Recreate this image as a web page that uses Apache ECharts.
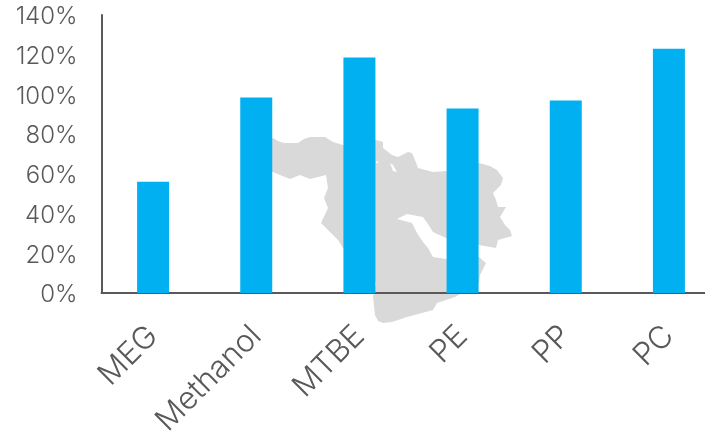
<!DOCTYPE html>
<html><head><meta charset="utf-8">
<style>html,body{margin:0;padding:0;background:#fff}#c{width:705px;height:441px}</style>
<script src="https://cdn.jsdelivr.net/npm/echarts@6/dist/echarts.min.js"></script></head>
<body><div id="c"></div>
<script>
const categories = ['MEG','Methanol','MTBE','PE','PP','PC'];
const values = [56, 98.4, 118.6, 92.9, 96.9, 123];
const yTicks = [0,20,40,60,80,100,120,140];
const regionOutline = [[265,138],[273,138],[278,141],[284,143],[298,143],[304,139],[310,137],[325,137],[333,142],[343,145],[376,140],[383,142],[383,148],[392,155],[398,157],[408,152],[412,153],[415,160],[418,168],[433,172],[446,171],[479,163],[490,166],[497,170],[503,178],[501,185],[493,193],[496,200],[498,207],[506,207],[500,217],[505,225],[510,230],[512,236],[498,240],[496,248],[479,245],[446,238],[433,232],[428,224],[423,217],[407,214],[397,219],[412,223],[417,233],[423,242],[428,248],[433,257],[446,259],[479,257],[486,263],[480,275],[479,283],[455,297],[437,303],[433,310],[407,317],[392,322],[383,323],[378,321],[375,315],[373,297],[376,283],[343,248],[338,240],[328,230],[321,223],[328,208],[324,198],[328,188],[326,175],[318,177],[310,179],[300,175],[290,179],[280,175],[273,172],[265,170]];
const regionLake = [[390,163],[393,165],[397,172],[393,171]];
const regionSpot = [[376,162],[378,161],[378,163],[376,163]];
const chart = echarts.init(document.getElementById('c'), null, {renderer:'canvas'});
const yFont = {fontFamily:'Inter', fontWeight:300, fontSize:24, color:'#595959'};
const xFont = {fontFamily:'Inter', fontWeight:300, fontSize:31, color:'#595959'};
chart.setOption({
  animation:false,
  backgroundColor:'#fff',
  grid:{left:101.5, top:15, width:619, height:278, containLabel:false, outerBoundsMode:'none'},
  graphic:{elements:[
    {type:'polygon', z:-10, shape:{points:regionOutline}, style:{fill:'#d9d9d9'}, silent:true},
    {type:'polygon', z:-9, shape:{points:regionLake}, style:{fill:'#fff'}, silent:true},
    {type:'polygon', z:-9, shape:{points:regionSpot}, style:{fill:'#fff'}, silent:true}
  ]},
  xAxis:{type:'category', data:categories,
    axisLine:{lineStyle:{color:'#595959',width:2}}, axisTick:{show:false},
    axisLabel:Object.assign({rotate:45, margin:38, interval:0}, xFont)},
  yAxis:{type:'value', min:0, max:140, interval:20,
    axisLine:{show:true,lineStyle:{color:'#595959',width:2}}, axisTick:{show:false},
    splitLine:{show:false},
    axisLabel:Object.assign({margin:24, formatter:v=>yTicks.includes(v)?'{a|'+v+'%}':'',
      rich:{a:Object.assign({padding:[4,0,0,0]}, yFont)}}, yFont)},
  series:[{type:'bar', data:values, barWidth:32, itemStyle:{color:'#00B0F0'}}]
});
</script></body></html>
